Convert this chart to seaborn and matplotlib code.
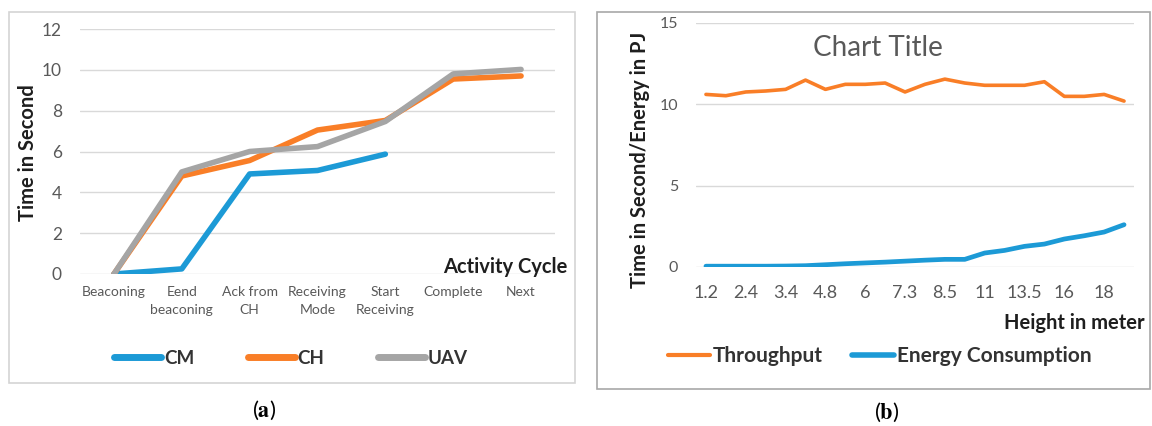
import numpy as np
import pandas as pd
import matplotlib
matplotlib.use("Agg")
import matplotlib.pyplot as plt
from matplotlib.patches import Rectangle
import seaborn as sns

# ---------------- data ----------------
activity = ["Beaconing", "Eend\nbeaconing", "Ack from\nCH", "Receiving\nMode",
            "Start\nReceiving", "Complete", "Next"]
cm_time = [0.0, 0.25, 4.9, 5.07, 5.87, np.nan, np.nan]
ch_time = [0.0, 4.8, 5.56, 7.05, 7.52, 9.55, 9.7]
uav_time = [0.0, 5.0, 6.0, 6.24, 7.47, 9.8, 10.02]
left_series = ["CM", "CH", "UAV"]
left_yticks = [0, 2, 4, 6, 8, 10, 12]

height_labels = ["1.2", "2.4", "3.4", "4.8", "6", "7.3", "8.5", "11", "13.5", "16", "18"]
throughput = [10.61, 10.53, 10.76, 10.82, 10.92, 11.49, 10.92, 11.23, 11.23, 11.31, 10.76,
              11.23, 11.55, 11.31, 11.17, 11.17, 11.17, 11.39, 10.49, 10.49, 10.61, 10.2]
energy = [0.05, 0.05, 0.05, 0.05, 0.06, 0.08, 0.14, 0.2, 0.25, 0.3, 0.36,
          0.42, 0.47, 0.47, 0.86, 1.02, 1.27, 1.41, 1.72, 1.92, 2.15, 2.6]
right_series = ["Throughput", "Energy Consumption"]
right_yticks = [0, 5, 10, 15]

BLUE = "#1C9AD6"
ORANGE = "#F97E27"
GRAY = "#A5A5A5"
TXT = "#595959"
DARK = "#333333"
GRID = "#D9D9D9"

sns.set_theme(style="white")
plt.rcParams["font.family"] = ["Lato", "DejaVu Sans"]
plt.rcParams["mathtext.fontset"] = "stix"

W, H = 1152, 426
fig = plt.figure(figsize=(W / 100, H / 100), dpi=100)
fig.patch.set_facecolor("white")

def fx(px):
    return px / W

def fy(py):
    return 1 - py / H

# frames
fig.add_artist(Rectangle((fx(9), fy(383)), fx(575) - fx(9), fy(12) - fy(383),
                         transform=fig.transFigure, fill=False, edgecolor="#D4D4D4", lw=1.2))
fig.add_artist(Rectangle((fx(597), fy(389)), fx(1150) - fx(597), fy(12) - fy(389),
                         transform=fig.transFigure, fill=False, edgecolor="#A8A8A8", lw=1.2))

# ---------------- left chart ----------------
axL = fig.add_axes([fx(80), fy(274), fx(555) - fx(80), fy(29) - fy(274)])
dfL = pd.DataFrame({
    "x": list(range(len(activity))) * 3,
    "y": cm_time + ch_time + uav_time,
    "series": sum([[s] * len(activity) for s in left_series], []),
})
sns.lineplot(data=dfL, x="x", y="y", hue="series", hue_order=left_series,
             palette=[BLUE, ORANGE, GRAY], linewidth=4, ax=axL, legend=True,
             solid_capstyle="round", solid_joinstyle="round")
axL.set_xlim(-0.5, len(activity) - 0.5)
axL.set_ylim(0, 12)
axL.set_yticks(left_yticks)
axL.set_yticklabels([str(v) for v in left_yticks], fontsize=12.5, color=TXT)
axL.set_xticks(range(len(activity)))
axL.set_xticklabels(activity, fontsize=10, color=TXT, linespacing=1.6)
axL.tick_params(axis="x", length=0, pad=9)
axL.tick_params(axis="y", length=0, pad=13)
axL.grid(axis="y", color=GRID, lw=1)
axL.set_axisbelow(True)
for sp in axL.spines.values():
    sp.set_visible(False)
axL.set_xlabel("")
axL.set_ylabel("")
h, l = axL.get_legend_handles_labels()
axL.legend(h, l, loc="center", bbox_to_anchor=(fx(291), fy(358)), bbox_transform=fig.transFigure,
           ncol=3, frameon=False, handlelength=2.5, handletextpad=0.15, columnspacing=2.85,
           prop={"weight": "bold", "size": 13.5}, labelcolor=DARK)
for lh in axL.get_legend().get_lines():
    lh.set_linewidth(5)
    lh.set_solid_capstyle("round")

fig.text(fx(28), fy(153), "Time in Second", rotation=90, ha="center", va="center",
         fontsize=14.5, fontweight="bold", color="#1E1E1E")
fig.text(fx(567), fy(273), "Activity Cycle", ha="right", va="baseline",
         fontsize=14.5, fontweight="bold", color="#1E1E1E")
fig.text(fx(264), fy(410), r"($\mathbf{a}$)", ha="center", va="center", fontsize=16, color="black")

# ---------------- right chart ----------------
axR = fig.add_axes([fx(696), fy(267), fx(1134) - fx(696), fy(23) - fy(267)])
n = len(throughput)
dfR = pd.DataFrame({
    "x": list(range(n)) * 2,
    "y": throughput + energy,
    "series": [right_series[0]] * n + [right_series[1]] * n,
})
sns.lineplot(data=dfR, x="x", y="y", hue="series", hue_order=right_series,
             palette=[ORANGE, BLUE], ax=axR, legend=True,
             solid_capstyle="round", solid_joinstyle="round")
lines = axR.get_lines()
lines[0].set_linewidth(2.6)
lines[1].set_linewidth(3.4)
axR.set_xlim(-0.5, n - 0.5)
axR.set_ylim(0, 15)
axR.set_yticks(right_yticks)
axR.set_yticklabels([str(v) for v in right_yticks], fontsize=11.5, color=TXT)
axR.set_xticks(range(0, 2 * len(height_labels), 2))
axR.set_xticklabels(height_labels, fontsize=13, color=TXT)
axR.tick_params(axis="x", length=0, pad=13)
axR.tick_params(axis="y", length=0, pad=13)
axR.grid(axis="y", color=GRID, lw=1)
axR.set_axisbelow(True)
for sp in axR.spines.values():
    sp.set_visible(False)
axR.set_xlabel("")
axR.set_ylabel("")
h, l = axR.get_legend_handles_labels()
axR.legend(h, l, loc="center", bbox_to_anchor=(fx(880), fy(356)), bbox_transform=fig.transFigure,
           ncol=2, frameon=False, handlelength=2.0, handletextpad=0.15, columnspacing=1.4,
           prop={"weight": "bold", "size": 15}, labelcolor=DARK)
lg = axR.get_legend().get_lines()
lg[0].set_linewidth(3)
lg[1].set_linewidth(4)

fig.text(fx(878), fy(48), "Chart Title", ha="center", va="center", fontsize=20, color=TXT)
fig.text(fx(640), fy(160), "Time in Second/Energy in PJ", rotation=90, ha="center", va="center",
         fontsize=14.5, fontweight="bold", color="#1E1E1E")
fig.text(fx(1145), fy(329), "Height in meter", ha="right", va="baseline",
         fontsize=14.5, fontweight="bold", color="#1E1E1E")
fig.text(fx(887), fy(412), r"($\mathbf{b}$)", ha="center", va="center", fontsize=16, color="black")

fig.savefig("out.png", dpi=100, facecolor="white")
